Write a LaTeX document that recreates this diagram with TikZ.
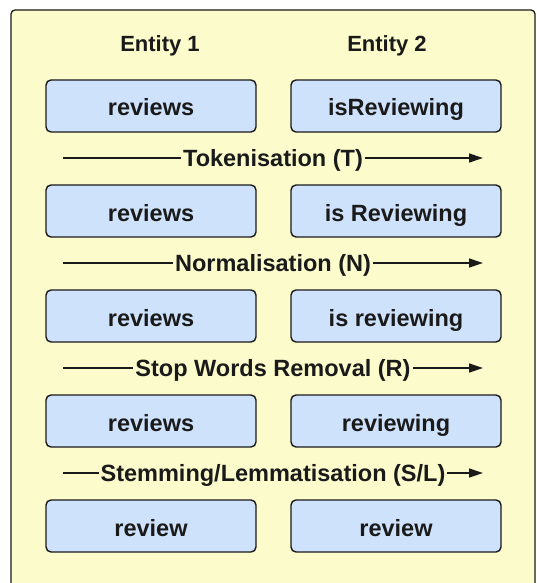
\documentclass[tikz,border=0pt]{standalone}
\usepackage{fontspec}
\setmainfont{Liberation Sans}
\usetikzlibrary{arrows.meta}
\definecolor{panel}{RGB}{252,251,204}
\definecolor{boxblue}{RGB}{207,226,252}
\definecolor{ink}{RGB}{26,26,26}
\tikzset{
  wbox/.style={draw=ink, fill=boxblue, line width=1.4pt, rounded corners=5pt,
    minimum width=210pt, minimum height=52pt, text height=20pt, text depth=0pt,
    inner sep=0pt, font=\fontsize{23.5}{28}\selectfont\bfseries, text=ink},
  head/.style={anchor=base, font=\fontsize{22}{26}\selectfont\bfseries, text=ink},
  flow/.style={draw=ink, line width=1.3pt, -{Triangle[length=14pt,width=9pt]}},
  lbl/.style={fill=panel, inner xsep=2pt, inner ysep=0pt, text height=16pt, text depth=0pt,
    font=\fontsize{23.5}{28}\selectfont\bfseries, text=ink}
}
\begin{document}
\begin{tikzpicture}[x=1pt,y=-1pt]
\useasboundingbox (0,0) rectangle (536,583);
\begin{scope}
\clip (0,0) rectangle (536,583);
\draw[draw=ink, fill=panel, line width=1.3pt, rounded corners=4pt] (11,10) rectangle (535,600);
\end{scope}
% column heads
\node[head] (h1) at (160,51.7){Entity 1};
\node[head] (h2) at (387,51.7){Entity 2};
% words, row by row
\node[wbox] (a0) at (151,106){reviews};
\node[wbox] (b0) at (396,106){isReviewing};
\node[wbox] (a1) at (151,211){reviews};
\node[wbox] (b1) at (396,211){is Reviewing};
\node[wbox] (a2) at (151,316){reviews};
\node[wbox] (b2) at (396,316){is reviewing};
\node[wbox] (a3) at (151,421){reviews};
\node[wbox] (b3) at (396,421){reviewing};
\node[wbox] (a4) at (151,526){review};
\node[wbox] (b4) at (396,526){review};
% steps
\coordinate (s0) at (63,158);
\coordinate (t0) at (483,158);
\coordinate (s1) at (63,263);
\coordinate (t1) at (483,263);
\coordinate (s2) at (63,368);
\coordinate (t2) at (483,368);
\coordinate (s3) at (63,473);
\coordinate (t3) at (483,473);
\draw[flow] (s0) -- node[lbl]{Tokenisation (T)} (t0);
\draw[flow] (s1) -- node[lbl]{Normalisation (N)} (t1);
\draw[flow] (s2) -- node[lbl]{Stop Words Removal (R)} (t2);
\draw[flow] (s3) -- node[lbl]{Stemming/Lemmatisation (S/L)} (t3);
\end{tikzpicture}
\end{document}
